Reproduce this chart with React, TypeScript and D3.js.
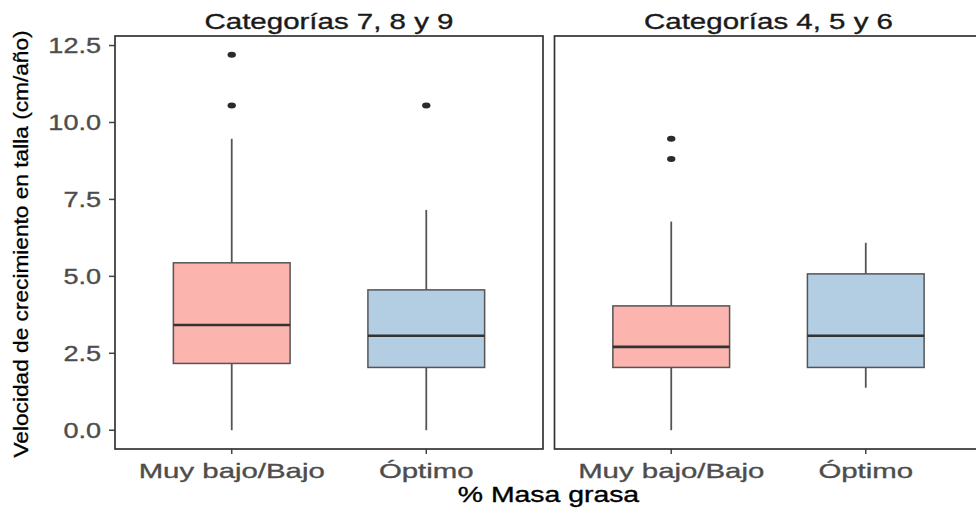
import React from "react";
import * as d3 from "d3";

// ---- Data ----
const facets = ["Categorías 7, 8 y 9", "Categorías 4, 5 y 6"];
const categories = ["Muy bajo/Bajo", "Óptimo"];
const fills = ["#FBB4AE", "#B3CDE3"];

// [lowerWhisker, q1, median, q3, upperWhisker] per facet, per category
const statsCat789 = [
  [0, 2.17, 3.42, 5.44, 9.47],
  [0, 2.04, 3.07, 4.56, 7.16],
];
const statsCat456 = [
  [0, 2.04, 2.71, 4.04, 6.78],
  [1.38, 2.04, 3.07, 5.08, 6.09],
];
const outliersCat789 = [[10.55, 12.2], [10.55]];
const outliersCat456 = [[8.81, 9.47], []];

const yTicks = [0, 2.5, 5, 7.5, 10, 12.5];
const yTitle = "Velocidad de crecimiento en talla (cm/año)";
const xTitle = "% Masa grasa";

const stats = [statsCat789, statsCat456];
const outliers = [outliersCat789, outliersCat456];

// ---- Layout ----
const W = 976;
const H = 509;
const panelTop = 36;
const panelBottom = 449;
const panels = [
  [115, 543],
  [554.5, 982.5],
];
const FONT = "'Liberation Sans', Arial, Helvetica, sans-serif";

const y = d3.scaleLinear().domain([-0.61, 12.81]).range([panelBottom, panelTop]);

function SText({ x, y: yy, sx, fs, anchor = "middle", fill, dy = 0, sw = 0.35, children }: any) {
  return (
    <text
      transform={`translate(${x},${yy}) scale(${sx},1)`}
      fontSize={fs}
      textAnchor={anchor}
      fill={fill}
      stroke={fill}
      strokeWidth={sw}
      dy={dy}
      fontFamily={FONT}
    >
      {children}
    </text>
  );
}

function Panel({ idx }: { idx: number }) {
  const [x0, x1] = panels[idx];
  const x = d3.scalePoint<string>().domain(categories).range([x0, x1]).padding(0.6);
  const bw = x.step() * 0.6;
  const st = stats[idx];
  const out = outliers[idx];
  return (
    <g>
      <SText x={(x0 + x1) / 2} y={28.5} sx={1.34} fs={22} fill="#1A1A1A">
        {facets[idx]}
      </SText>
      {categories.map((c, i) => {
        const cx = x(c)!;
        const [lo, q1, med, q3, hi] = st[i];
        return (
          <g key={c}>
            <line x1={cx} x2={cx} y1={y(hi)} y2={y(q3)} stroke="#555" strokeWidth={1.8} />
            <line x1={cx} x2={cx} y1={y(q1)} y2={y(lo)} stroke="#555" strokeWidth={1.8} />
            <rect
              x={cx - bw / 2}
              y={y(q3)}
              width={bw}
              height={y(q1) - y(q3)}
              fill={fills[i]}
              stroke="#555"
              strokeWidth={1.5}
            />
            <line x1={cx - bw / 2} x2={cx + bw / 2} y1={y(med)} y2={y(med)} stroke="#333" strokeWidth={2.7} />
            {out[i].map((v, k) => (
              <ellipse key={k} cx={cx} cy={y(v)} rx={4.2} ry={3} fill="#2b2b2b" />
            ))}
            <line x1={cx} x2={cx} y1={panelBottom} y2={panelBottom + 5} stroke="#444" strokeWidth={1.5} />
            <SText x={cx} y={477.5} sx={1.4} fs={21} fill="#4D4D4D">
              {c}
            </SText>
          </g>
        );
      })}
      <rect
        x={x0}
        y={panelTop}
        width={x1 - x0}
        height={panelBottom - panelTop}
        fill="none"
        stroke="#333"
        strokeWidth={1.7}
      />
    </g>
  );
}

export default function App() {
  const x0 = panels[0][0];
  return (
    <svg
      width={W}
      height={H}
      style={{ position: "absolute", left: 0, top: 0, background: "#fff" }}
    >
      <rect width={W} height={H} fill="#fff" />
      {yTicks.map((t) => (
        <g key={t}>
          <line x1={x0 - 6} x2={x0} y1={y(t)} y2={y(t)} stroke="#444" strokeWidth={1.5} />
          <SText x={101} y={y(t)} dy="0.36em" sx={1.23} fs={22} anchor="end" fill="#4D4D4D">
            {d3.format(".1f")(t)}
          </SText>
        </g>
      ))}
      <Panel idx={0} />
      <Panel idx={1} />
      <SText x={548.5} y={501.5} sx={1.29} fs={22} fill="#000">
        {xTitle}
      </SText>
      <text
        transform={`translate(28,244) rotate(-90) scale(1.08,1)`}
        fontSize={21}
        textAnchor="middle"
        fill="#000"
        stroke="#000"
        strokeWidth={0.3}
        fontFamily={FONT}
      >
        {yTitle}
      </text>
    </svg>
  );
}
